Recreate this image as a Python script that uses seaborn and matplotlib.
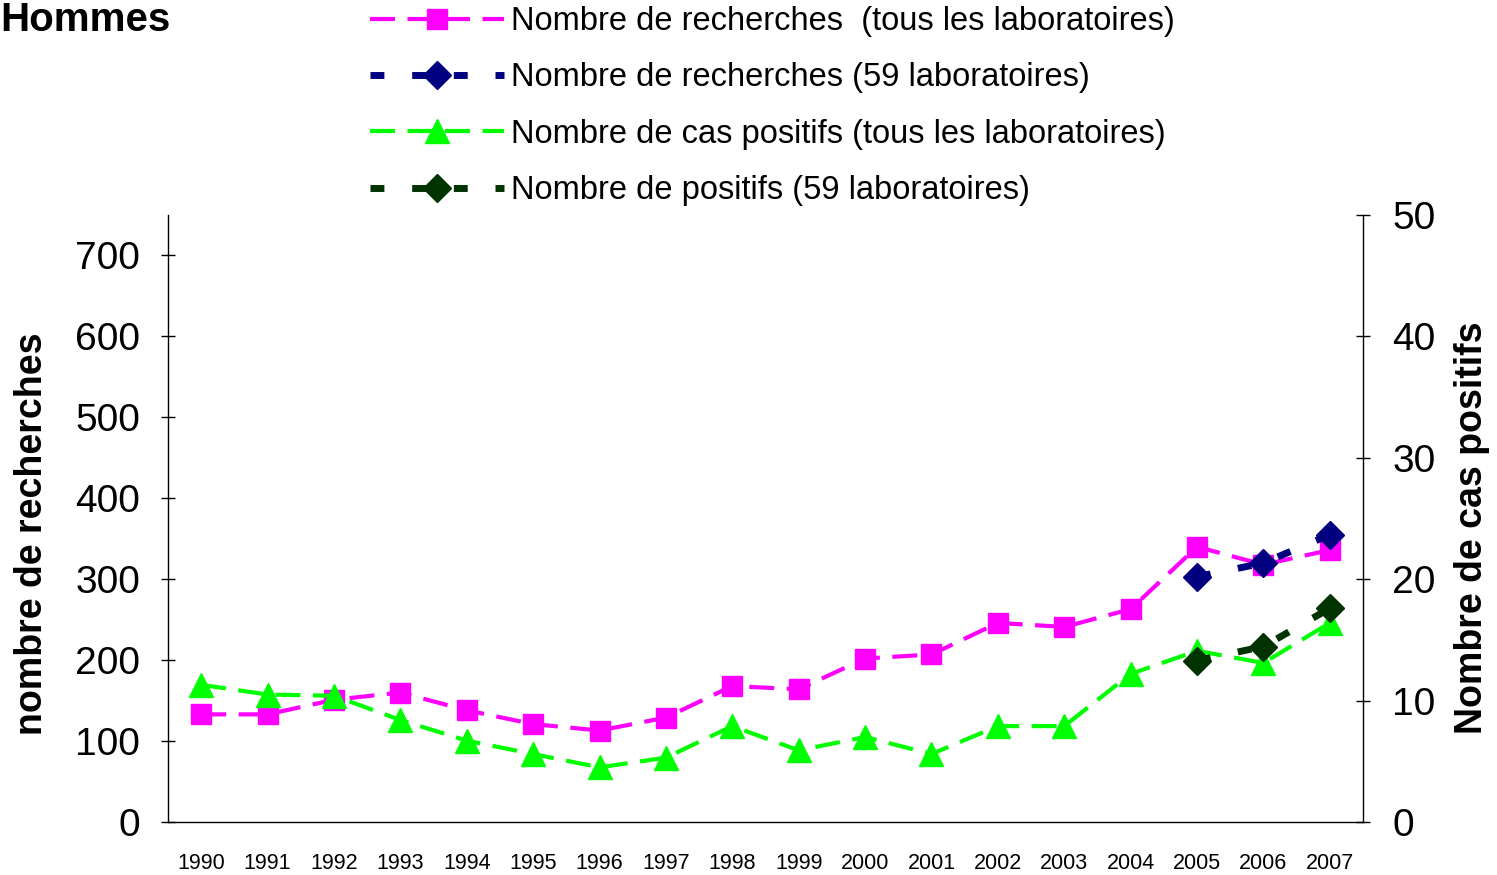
import numpy as np
import pandas as pd
import matplotlib
matplotlib.use('Agg')
import matplotlib.pyplot as plt
import seaborn as sns
from matplotlib import font_manager
from matplotlib.font_manager import FontProperties
from matplotlib.ticker import FixedLocator, NullFormatter, FixedFormatter

# ---------------- data ----------------
years = [1990, 1991, 1992, 1993, 1994, 1995, 1996, 1997, 1998,
         1999, 2000, 2001, 2002, 2003, 2004, 2005, 2006, 2007]
recherches_tous = [133, 133, 151, 160, 138, 121, 113, 129, 168,
                   164, 202, 207, 246, 241, 263, 340, 318, 336]
years_59 = [2005, 2006, 2007]
recherches_59 = [303, 320, 355]
positifs_tous = [11.3, 10.5, 10.4, 8.4, 6.7, 5.6, 4.5, 5.3, 7.9,
                 5.9, 7.0, 5.6, 7.9, 7.9, 12.2, 14.1, 13.1, 16.4]
positifs_59 = [13.3, 14.45, 17.6]

labels = ["Nombre de recherches  (tous les laboratoires)",
          "Nombre de recherches (59 laboratoires)",
          "Nombre de cas positifs (tous les laboratoires)",
          "Nombre de positifs (59 laboratoires)"]
left_ticks = [0, 100, 200, 300, 400, 500, 600, 700]
right_ticks = [0, 10, 20, 30, 40, 50]

# ---------------- style ----------------
sns.set_theme(style='white')
names = {f.name for f in font_manager.fontManager.ttflist}
base = 'Liberation Sans' if 'Liberation Sans' in names else 'DejaVu Sans'
narrow = 'Liberation Sans Narrow' in names
plt.rcParams['font.family'] = [base, 'DejaVu Sans']
plt.rcParams['text.color'] = 'black'
plt.rcParams['axes.labelcolor'] = 'black'
plt.rcParams['xtick.color'] = 'black'
plt.rcParams['ytick.color'] = 'black'

W, H = 1497, 875
fig = plt.figure(figsize=(W / 100, H / 100), dpi=100)
x0, x1, ytop, ybot = 168, 1363, 215, 822
ax = fig.add_axes([x0 / W, 1 - ybot / H, (x1 - x0) / W, (ybot - ytop) / H])
ax2 = ax.twinx()

PINK, NAVY, GREEN, DKGREEN = '#FF00FF', '#000080', '#00FF00', '#003300'

sns.lineplot(x=years, y=recherches_tous, ax=ax, color=PINK, lw=3,
             linestyle=(0, (6, 3)), marker='s', ms=14, mec=PINK, mew=1,
             legend=False)
sns.lineplot(x=years_59, y=recherches_59, ax=ax, color=NAVY, lw=5,
             linestyle=(0, (2, 4)), marker='D', ms=14, mec=NAVY, mew=1,
             legend=False)
sns.lineplot(x=years, y=positifs_tous, ax=ax2, color=GREEN, lw=3,
             linestyle=(0, (6, 3)), marker='^', ms=17, mec=GREEN, mew=1,
             legend=False)
sns.lineplot(x=years_59, y=positifs_59, ax=ax2, color=DKGREEN, lw=5,
             linestyle=(0, (2, 4)), marker='D', ms=14, mec=DKGREEN, mew=1,
             legend=False)

handles = [ax.lines[0], ax.lines[1], ax2.lines[0], ax2.lines[1]]

# ---------------- axes ----------------
ax.set_xlim(years[0] - 0.5, years[-1] + 0.5)
ax.set_ylim(0, 750)
ax2.set_ylim(0, 50)

ax.xaxis.set_major_locator(FixedLocator(np.arange(years[0] - 0.5, years[-1] + 1, 1.0)))
ax.xaxis.set_major_formatter(NullFormatter())
ax.xaxis.set_minor_locator(FixedLocator(years))
ax.xaxis.set_minor_formatter(FixedFormatter([str(y) for y in years]))
ax.tick_params(axis='x', which='major', direction='inout', length=10, width=1, color='black')
ax.tick_params(axis='x', which='minor', direction='inout', length=0, labelsize=15.5, pad=22)

ax.set_yticks(left_ticks)
ax.set_yticklabels([str(v) for v in left_ticks])
ax.tick_params(axis='y', direction='inout', length=10, width=1, color='black',
               labelsize=28, pad=15, left=True)
ax2.set_yticks(right_ticks)
ax2.set_yticklabels([str(v) for v in right_ticks])
ax2.tick_params(axis='y', direction='inout', length=10, width=1, color='black',
                labelsize=28, pad=16, right=True)

for a in (ax, ax2):
    a.spines['top'].set_visible(False)
    for s in ('left', 'right', 'bottom'):
        a.spines[s].set_color('black')
        a.spines[s].set_linewidth(1)
ax.spines['right'].set_visible(False)
ax2.spines['left'].set_visible(False)
ax2.spines['bottom'].set_visible(False)
ax.set_xlabel('')

ax.set_ylabel('nombre de recherches', fontsize=27, fontweight='bold')
ax.yaxis.set_label_coords((32 - x0) / (x1 - x0), (ybot - 534) / (ybot - ytop))
ax.yaxis.label.set_va('center')
ax2.set_ylabel('Nombre de cas positifs', fontsize=27, fontweight='bold')
ax2.yaxis.set_label_coords((1472 - x0) / (x1 - x0), (ybot - 528) / (ybot - ytop))
ax2.yaxis.label.set_va('center')
ax2.yaxis.label.set_rotation(90)

fig.text(0.0, 1 - 20 / H, 'Hommes', fontsize=29, fontweight='bold', ha='left', va='center')

if narrow:
    prop = FontProperties(family=['Liberation Sans Narrow', base], size=28)
    hl, htp, ls = 3.46, 0.2, 0.3
    ytop_leg = 1.0
else:
    prop = FontProperties(family=[base], size=23.5)
    hl, htp, ls = 4.1, 0.22, 0.78
    ytop_leg = 1 - 6 / H
fig.legend(handles, labels, loc='upper left', bbox_to_anchor=(370 / W, ytop_leg),
           frameon=False, borderpad=0, borderaxespad=0, handlelength=hl,
           handletextpad=htp, labelspacing=ls, prop=prop, numpoints=1)

fig.savefig('out.png', dpi=100)
